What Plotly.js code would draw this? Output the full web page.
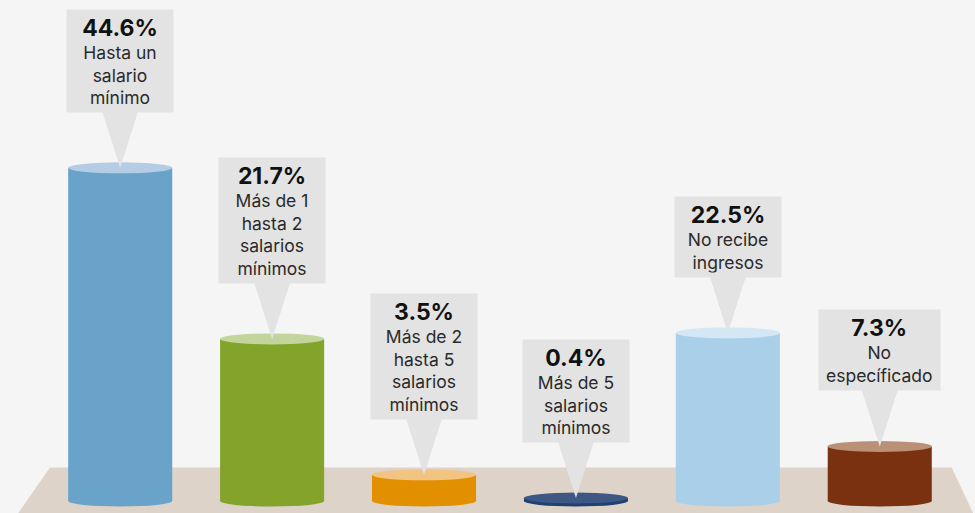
<!DOCTYPE html>
<html>
<head>
<meta charset="utf-8">
<script src="https://cdn.plot.ly/plotly-3.0.1.min.js"></script>
<style>html,body{margin:0;padding:0;background:#f5f5f5;}#chart{width:975px;height:513px;}</style>
</head>
<body>
<div id="chart"></div>
<script>
// ---- data ----
const categories = ["Hasta un<br>salario<br>mínimo", "Más de 1<br>hasta 2<br>salarios<br>mínimos", "Más de 2<br>hasta 5<br>salarios<br>mínimos", "Más de 5<br>salarios<br>mínimos", "No recibe<br>ingresos", "No<br>específicado"];
const values = [44.6, 21.7, 3.5, 0.4, 22.5, 7.3];
const valueLabels = ["44.6%", "21.7%", "3.5%", "0.4%", "22.5%", "7.3%"];

// ---- styles ----
const sideColors = ["#6aa3ca", "#83a32b", "#e39000", "#1d4271", "#aacfe9", "#7a3110"];
const topColors  = ["#b4cde4", "#c3d59c", "#f2c482", "#3f5883", "#d3e7f4", "#ba9077"];
const FONT = "Inter, 'Open Sans', sans-serif";
const bodySize = 17.5, boldSize = 23;
const barW = 0.685;
const ellH = 5.5;      // half-height of ellipse in px
const gap = 57;        // px from bar top to box bottom
const triHalf = 18.5;

const xIdx = values.map((v, i) => i);

// measure text widths for boxes
const cvs = document.createElement('canvas').getContext('2d');
function boxWidth(i) {
  let w = 0;
  cvs.font = bodySize + "px Inter";
  categories[i].split('<br>').forEach(l => { w = Math.max(w, cvs.measureText(l).width); });
  cvs.font = "bold " + boldSize + "px Inter";
  w = Math.max(w, cvs.measureText(valueLabels[i]).width);
  return Math.max(98, w + 6);
}

const trace = {
  type: 'bar',
  x: xIdx,
  y: values,
  base: 0,
  width: barW,
  marker: { color: sideColors, line: { width: 0 } },
  hoverinfo: 'skip'
};

const shapes = [];
// floor
shapes.push({
  type: 'path', xref: 'paper', yref: 'paper', layer: 'below',
  path: 'M 0.0188 0 L 0.0513 0.0887 L 0.9761 0.0887 L 0.998 0 Z',
  fillcolor: '#ded3c8', line: { width: 0 }
});
xIdx.forEach(i => {
  shapes.push({
    type: 'circle', xref: 'x', yref: 'y', layer: 'above',
    x0: i - barW / 2, x1: i + barW / 2,
    ysizemode: 'pixel', yanchor: 0, y0: -ellH, y1: ellH,
    fillcolor: sideColors[i], line: { width: 0 }
  });
});
xIdx.forEach(i => {
  shapes.push({
    type: 'circle', xref: 'x', yref: 'y', layer: 'above',
    x0: i - barW / 2, x1: i + barW / 2,
    ysizemode: 'pixel', yanchor: values[i], y0: -ellH, y1: ellH,
    fillcolor: topColors[i], line: { width: 0 }
  });
  shapes.push({
    type: 'path', xref: 'x', yref: 'y', layer: 'above',
    xsizemode: 'pixel', xanchor: i, ysizemode: 'pixel', yanchor: values[i],
    path: `M ${-triHalf} ${gap + 1} L ${triHalf} ${gap + 1} L 0 0 Z`,
    fillcolor: '#e3e3e3', line: { width: 0 }
  });
});

const annotations = xIdx.map(i => ({
  x: i, y: values[i], xref: 'x', yref: 'y',
  xanchor: 'center', yanchor: 'bottom', yshift: gap - 2,
  showarrow: false, align: 'center',
  width: boxWidth(i),
  bgcolor: '#e3e3e3', borderpad: 4,
  font: { family: FONT, size: bodySize, color: '#2a2a2a' },
  text: `<span style="font-size:${boldSize}px;color:#111"><b>${valueLabels[i]}</b></span><br>${categories[i]}`
}));

const layout = {
  width: 975, height: 513,
  margin: { l: 0, r: 0, t: 0, b: 0 },
  paper_bgcolor: '#f5f5f5', plot_bgcolor: '#f5f5f5',
  showlegend: false, hovermode: false,
  xaxis: { range: [-0.7913, 5.627], visible: false, fixedrange: true },
  yaxis: { range: [-1.606, 67.07], visible: false, fixedrange: true },
  shapes: shapes,
  annotations: annotations
};

Plotly.newPlot('chart', [trace], layout, { displayModeBar: false, staticPlot: true });
</script>
</body>
</html>
